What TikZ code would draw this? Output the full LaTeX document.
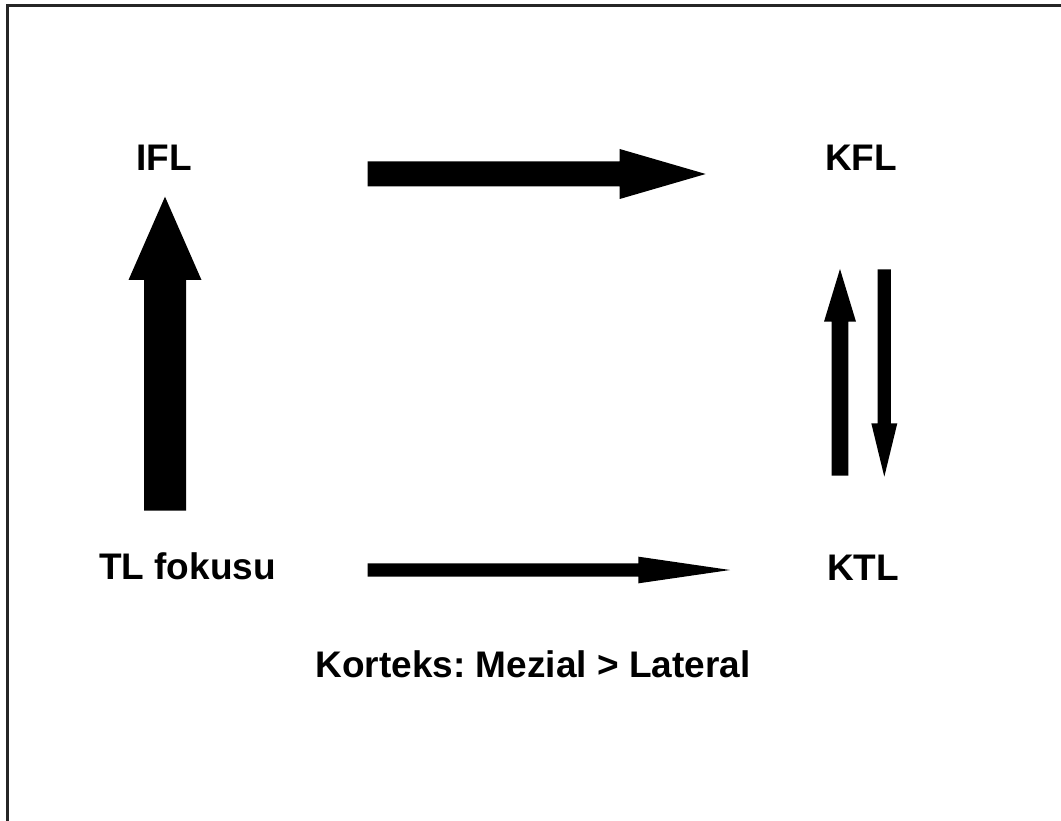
\documentclass[tikz,border=0pt]{standalone}
\usepackage{fontspec}
\setmainfont{Liberation Sans}
\frenchspacing
\begin{document}
% block arrow: start point, rotation, length, shaft width, head width, head length
\newcommand\blockarrow[7]{%
  \begin{scope}[shift={(#1,#2)},rotate=#3]
    \fill[black] (0,-#5/2) -- (#4-#7,-#5/2) -- (#4-#7,-#6/2) -- (#4,0)
      -- (#4-#7,#6/2) -- (#4-#7,#5/2) -- (0,#5/2) -- cycle;
  \end{scope}}
\begin{tikzpicture}[x=1pt,y=-1pt,
  lbl/.style={anchor=base,inner sep=0pt,font=\fontsize{37}{44}\selectfont\bfseries}]
  \useasboundingbox (0,0) rectangle (1061,821);
  % frame edges
  \draw[line width=2.5pt,black!85] (7.5,821) -- (7.5,5.5) -- (1061,5.5);

  % labels
  \node[lbl] (ifl) at (164,171) {IFL};
  \node[lbl] (kfl) at (861,171) {KFL};
  \node[lbl] (tl)  at (187.5,579) {TL fokusu};
  \node[lbl] (ktl) at (863,580) {KTL};
  \node[lbl] (kor) at (533,677) {Korteks: Mezial > Lateral};

  % IFL -> KFL
  \blockarrow{367.7}{174}{0}{338}{25}{50}{86}
  % TL fokusu -> IFL
  \blockarrow{165}{510.7}{90}{314}{42}{73}{83.3}
  % KTL -> KFL
  \blockarrow{840}{475.7}{90}{206.7}{16.7}{32}{52.7}
  % KFL -> KTL
  \blockarrow{884.3}{269.3}{-90}{207.4}{13.3}{26}{53.4}
  % TL fokusu -> KTL
  \blockarrow{367.7}{570}{0}{362.3}{13.3}{26.7}{91.7}
\end{tikzpicture}
\end{document}
